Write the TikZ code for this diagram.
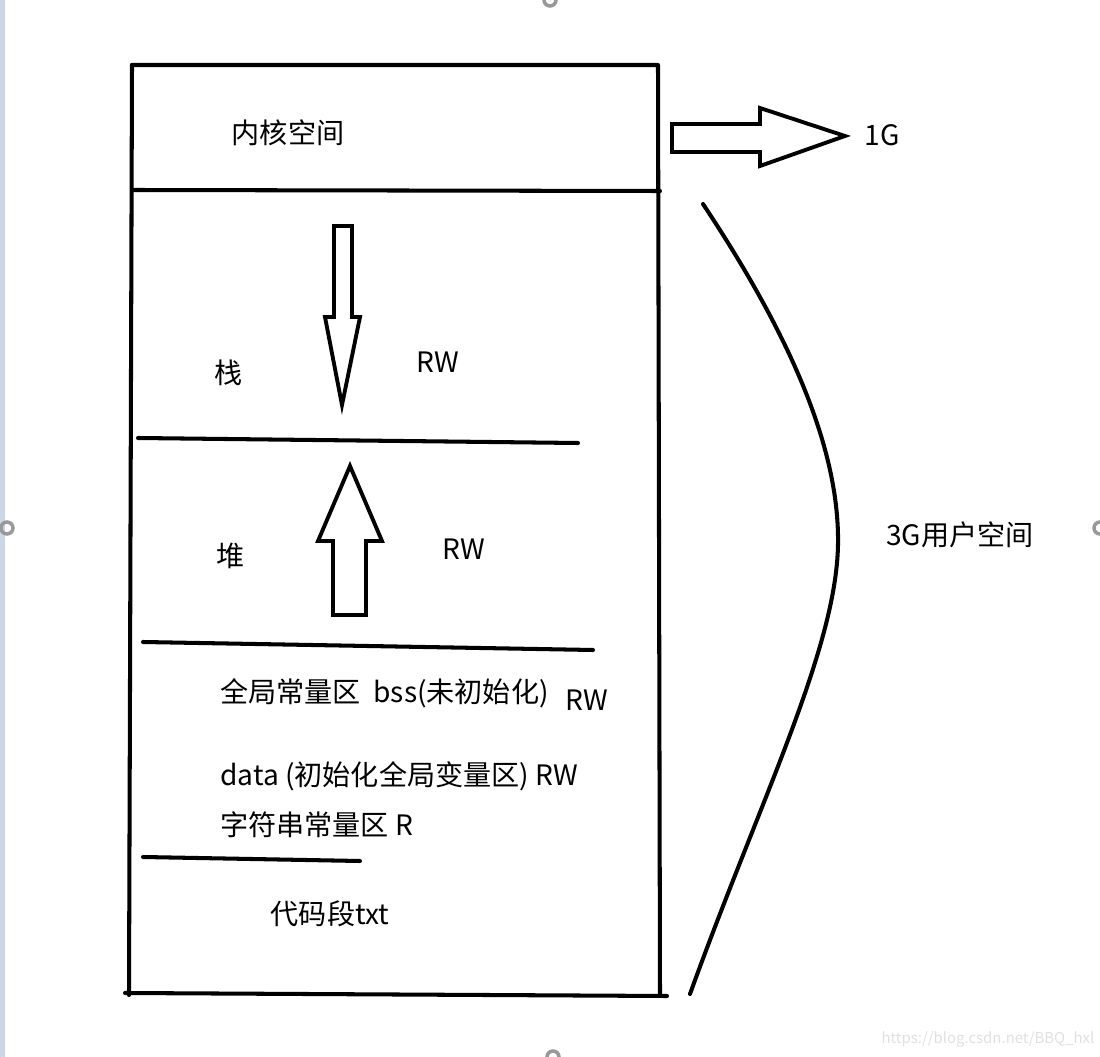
\documentclass[tikz,border=0pt]{standalone}
\usepackage{fontspec}
\setmainfont{Noto Sans CJK SC}
\usetikzlibrary{positioning}
\tikzset{
	memline/.style={line width=2.3pt, line cap=round, line join=round},
	blockarrow/.style={line width=2.2pt, line join=miter, fill=white},
	memtext/.style={font=\fontsize{16}{19}\selectfont, inner sep=0pt},
	marktext/.style={font=\fontsize{8.5}{10}\selectfont\color{black!12}, inner sep=0pt},
	handle/.style={draw=gray!80, line width=2pt}
}
\definecolor{edgeblue}{RGB}{204,214,228}
\begin{document}
\begin{tikzpicture}[x=0.02cm, y=-0.02cm]
      \useasboundingbox (0,0) rectangle (1100,1057);
      \clip (0,0) rectangle (1100,1057);
      \fill[edgeblue] (0,0) rectangle (5,1057);
      % window handles
      \draw[handle] (550,0) circle (6);
      \draw[handle] (7,528) circle (6);
      \draw[handle] (1100,528) circle (6);
      \draw[handle] (553,1057) circle (6);
      % memory box
      \draw[memline] (132,65) -- (658,65) -- (660,995);
      \draw[memline] (132,65) -- (129,995);
      \draw[memline] (125,993) -- (667,996);
      \draw[memline] (132,190) -- (660,191);
      \draw[memline] (138,438) -- (578,443);
      \draw[memline] (143,642) -- (593,650);
      \draw[memline] (143,857) -- (360,861);
      % stack grows down
      \draw[blockarrow] (334,226) -- (352,226) -- (352,317) -- (360,317)
        -- (342,405) -- (325,317) -- (334,317) -- cycle;
      % heap grows up
      \draw[blockarrow] (333,615) -- (366,615) -- (366,541) -- (382,541)
        -- (350,466) -- (318,541) -- (333,541) -- cycle;
      % kernel arrow
      \draw[blockarrow] (672,124) -- (760,124) -- (760,108) -- (845,136)
        -- (760,166) -- (760,152) -- (672,152) -- cycle;
      % user space bracket
      \draw[memline] (703,204) .. controls (780,320) and (840,440) .. (838,545)
        .. controls (836,650) and (760,800) .. (690,994);
      % labels
      \node[memtext] (kernel) at (288,133) {内核空间};
      \node[memtext] (stack) at (229,373) {栈};
      \node[memtext] (stackrw) at (438,362) {RW};
      \node[memtext] (heap) at (231,556) {堆};
      \node[memtext] (heaprw) at (464,549) {RW};
      \node[memtext, anchor=west] (bss) at (220,693) {全局常量区\ \ bss(未初始化)};
      \node[memtext] (bssrw) at (587,700) {RW};
      \node[memtext, anchor=west] (data) at (220,776) {data (初始化全局变量区) RW};
      \node[memtext, anchor=west] (rodata) at (220,825) {字符串常量区 R};
      \node[memtext] (text) at (330,914) {代码段txt};
      \node[memtext] (onegig) at (882,135) {1G};
      \node[memtext] (user) at (960,535) {3G用户空间};
      \node[marktext] (mark) at (988,1039) {https://blog.csdn.net/BBQ\_hxl};
    \end{tikzpicture}
\end{document}
